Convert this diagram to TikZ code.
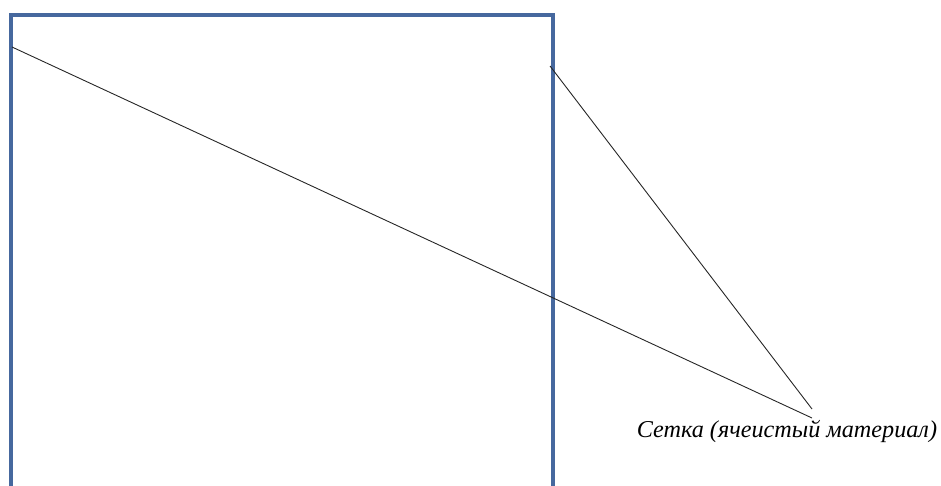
\documentclass[tikz,border=0pt]{standalone}
\usepackage{fontspec}
\setmainfont{Liberation Serif}
\definecolor{frameblue}{RGB}{70,104,158}
\begin{document}
\begin{tikzpicture}[x=1pt,y=-1pt,
  frame/.style={draw=frameblue,line width=4pt,line cap=butt,line join=miter},
  leader/.style={draw=black!85,line width=0.9pt},
  label/.style={font=\itshape\fontsize{24.2}{27}\selectfont,inner sep=0pt,anchor=base}]
\useasboundingbox (0,0) rectangle (941,486);
\draw[frame] (11,488) -- (11,15) -- (553,15) -- (553,488);
\coordinate (p1) at (12,47);
\coordinate (p2) at (550,66);
\coordinate (e1) at (812,418);
\coordinate (e2) at (812,409);
\node[label] (lbl) at (787,437) {Сетка (ячеистый материал)};
\draw[leader] (p1) -- (e1);
\draw[leader] (p2) -- (e2);
\end{tikzpicture}
\end{document}
